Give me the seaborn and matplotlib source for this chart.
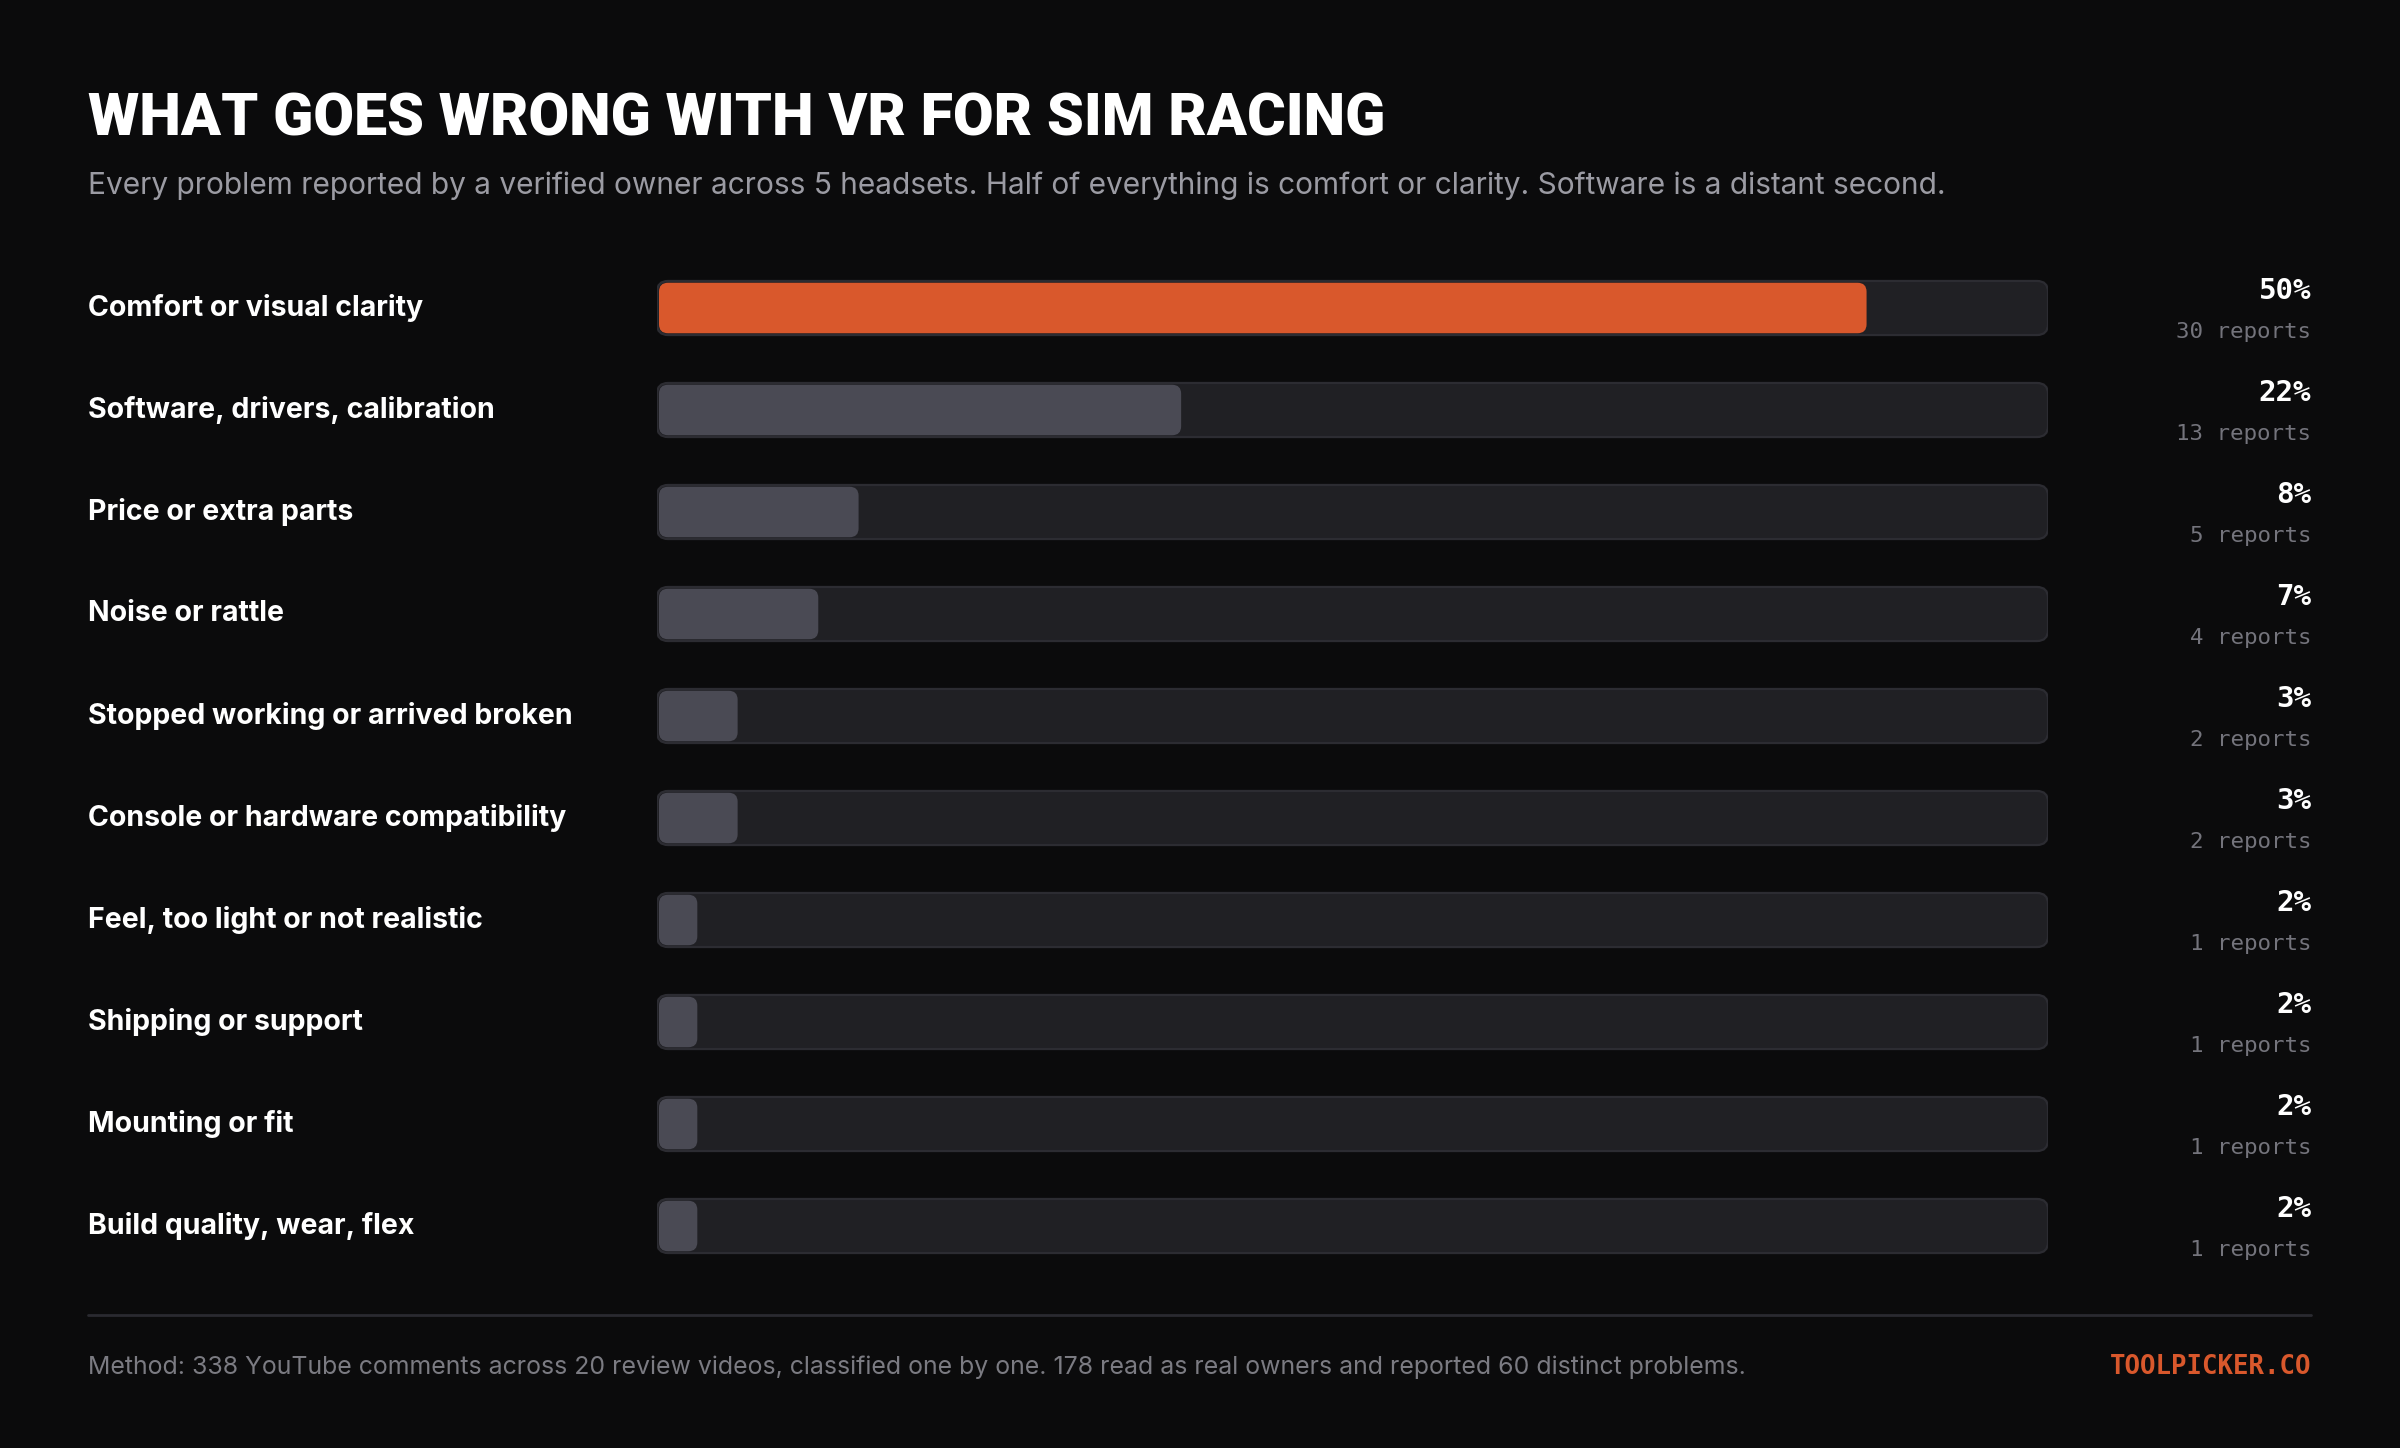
import matplotlib
matplotlib.use("Agg")
import matplotlib.pyplot as plt
import matplotlib.transforms as mtransforms
from matplotlib.patches import FancyBboxPatch
import pandas as pd
import seaborn as sns

# --- data ---
problems = [
    "Comfort or visual clarity",
    "Software, drivers, calibration",
    "Price or extra parts",
    "Noise or rattle",
    "Stopped working or arrived broken",
    "Console or hardware compatibility",
    "Feel, too light or not realistic",
    "Shipping or support",
    "Mounting or fit",
    "Build quality, wear, flex",
]
reports = [30, 13, 5, 4, 2, 2, 1, 1, 1, 1]
pct_labels = ["50%", "22%", "8%", "7%", "3%", "3%", "2%", "2%", "2%", "2%"]

title = "WHAT GOES WRONG WITH VR FOR SIM RACING"
subtitle = ("Every problem reported by a verified owner across 5 headsets. "
            "Half of everything is comfort or clarity. Software is a distant second.")
footer = ("Method: 338 YouTube comments across 20 review videos, classified one by one. "
          "178 read as real owners and reported 60 distinct problems.")
brand = "TOOLPICKER.CO"

# --- colours ---
BG = "#0b0b0c"
TRACK = "#202024"
TRACK_EDGE = "#2c2c32"
FILL = "#4a4a54"
ACCENT = "#d9582c"

sns.set_theme(style="dark")
plt.rcParams["font.family"] = ["Inter", "DejaVu Sans"]

df = pd.DataFrame({"problem": problems, "reports": reports})
xmax = max(reports) * 1.15
df["track"] = xmax

W, H = 2400, 1448
fig = plt.figure(figsize=(W / 100, H / 100), dpi=100, facecolor=BG)

# axes box in pixels (left, top, right, bottom)
ax_l, ax_t, ax_r, ax_b = 657, 257, 2048, 1277
ax = fig.add_axes([ax_l / W, 1 - ax_b / H, (ax_r - ax_l) / W, (ax_b - ax_t) / H])
ax.set_facecolor(BG)

bar_w = 0.53
sns.barplot(data=df, x="track", y="problem", orient="h", color=TRACK,
            width=bar_w, ax=ax, errorbar=None, saturation=1)
n_track = len(ax.patches)
colors = [ACCENT] + [FILL] * (len(df) - 1)
sns.barplot(data=df, x="reports", y="problem", hue="problem", palette=colors,
            orient="h", width=bar_w - 0.035, ax=ax, errorbar=None, legend=False,
            saturation=1)

ax.set_xlim(0, xmax)
ax.set_ylim(len(df) - 0.5, -0.5)

# swap the flat bars for rounded ones
px_per_x = (ax_r - ax_l) / xmax
px_per_y = (ax_b - ax_t) / len(df)
aspect = px_per_x / px_per_y
old = list(ax.patches)
for i, p in enumerate(old):
    x0, y0, w, h = p.get_x(), p.get_y(), p.get_width(), p.get_height()
    is_track = i < n_track
    if is_track:
        fc, ec, lw = TRACK, TRACK_EDGE, 1.6
        radius = 11 / px_per_x
    else:
        x0 += 2 / px_per_x
        w = max(w - 2 / px_per_x, 0)
        fc, ec, lw = p.get_facecolor(), "none", 0
        radius = 9 / px_per_x
    r = min(radius, w / 2)
    fb = FancyBboxPatch((x0, y0), w, h,
                        boxstyle=f"round,pad=0,rounding_size={r}",
                        mutation_aspect=aspect,
                        facecolor=fc, edgecolor=ec, linewidth=lw,
                        zorder=2 if is_track else 3)
    p.remove()
    ax.add_patch(fb)

ax.set_xticks([])
ax.set_yticks([])
ax.set_xlabel("")
ax.set_ylabel("")
for s in ax.spines.values():
    s.set_visible(False)

# row labels and values
trans_left = mtransforms.blended_transform_factory(fig.transFigure, ax.transData)
for i, row in df.iterrows():
    ax.text(88 / W, i, row["problem"], transform=trans_left, color="white",
            fontsize=20.5, fontweight="bold", va="center", ha="left")
    ax.text(2311 / W, i - 0.165, pct_labels[i], transform=trans_left, color="white",
            fontsize=21, fontweight="bold", family="DejaVu Sans Mono",
            va="center", ha="right")
    ax.text(2311 / W, i + 0.235, f"{row['reports']} reports", transform=trans_left,
            color="#74747c", fontsize=16.2, family="DejaVu Sans Mono",
            va="center", ha="right")

# header
fig.text(88 / W, 1 - 119 / H, title, color="white", fontsize=42.5,
         fontweight="heavy", family=["Roboto", "DejaVu Sans"], va="center", ha="left")
fig.text(88 / W, 1 - 186 / H, subtitle, color="#9b9ba3", fontsize=21.5,
         va="center", ha="left")

# footer
fig.add_artist(plt.Line2D([88 / W, 2311 / W], [1 - 1315 / H, 1 - 1315 / H],
                          color="#2a2a30", lw=2, transform=fig.transFigure))
fig.text(88 / W, 1 - 1367 / H, footer, color="#7b7b82", fontsize=17.9,
         va="center", ha="left")
fig.text(2311 / W, 1 - 1367 / H, brand, color=ACCENT, fontsize=18.5,
         fontweight="bold", family="DejaVu Sans Mono", va="center", ha="right")

fig.savefig("out.png", dpi=100, facecolor=BG)
